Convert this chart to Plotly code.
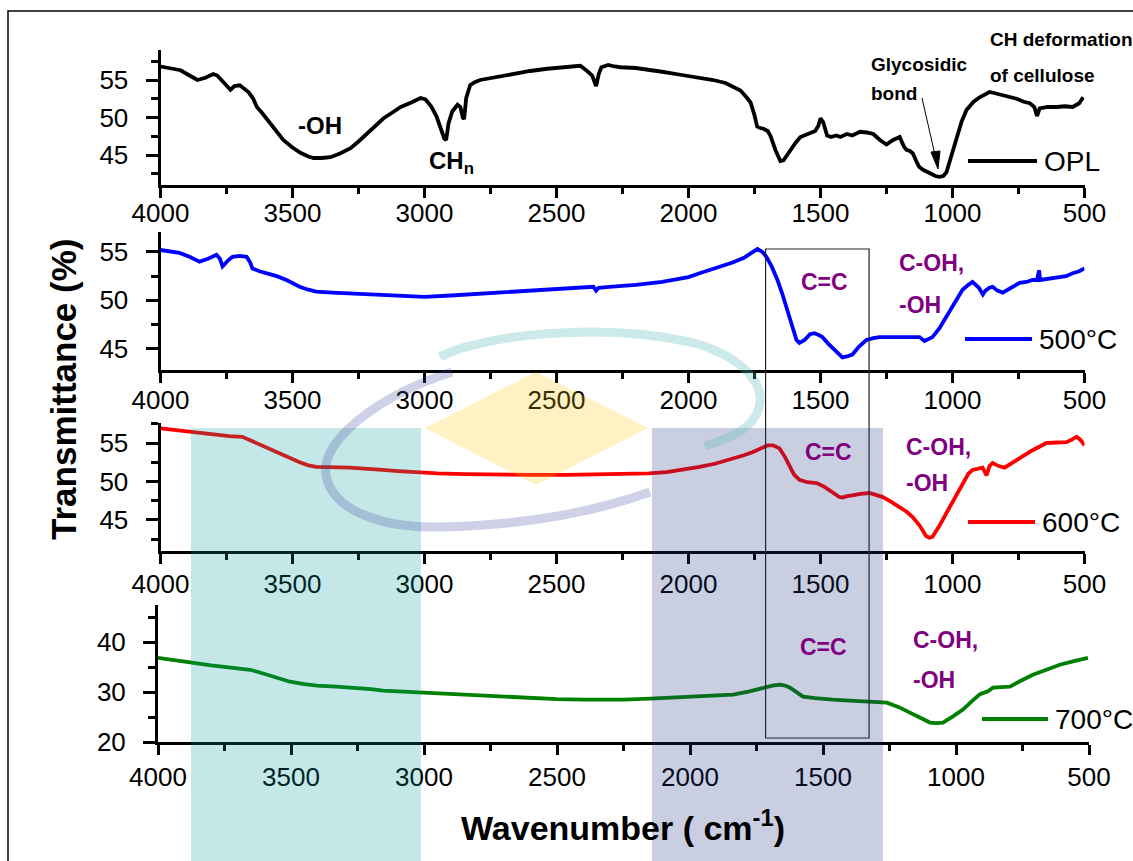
import plotly.graph_objects as go

W, H = 1133, 861

# ---------------- spectra: wavenumber (cm-1) / transmittance (%) ----------------
opl_wn = [4000, 3960, 3924, 3890, 3860, 3830, 3800, 3785, 3760, 3745, 3735, 3720, 3700, 3685, 3667,
          3650, 3635, 3615, 3596, 3565, 3535, 3500, 3470, 3440, 3420, 3390, 3356, 3320, 3280, 3250,
          3217, 3185, 3155, 3120, 3090, 3050, 3015, 2996, 2975, 2955, 2940, 2925, 2918, 2909, 2895,
          2875, 2864, 2855, 2850, 2842, 2827, 2810, 2789, 2730, 2664, 2600, 2535, 2470, 2410, 2384,
          2365, 2350, 2340, 2330, 2304, 2280, 2258, 2200, 2156, 2100, 2031, 1960, 1906, 1860, 1830,
          1803, 1778, 1765, 1750, 1740, 1728, 1716, 1700, 1690, 1670, 1652, 1640, 1615, 1595, 1576,
          1555, 1538, 1520, 1508, 1500, 1490, 1475, 1460, 1440, 1425, 1400, 1380, 1350, 1325, 1300,
          1275, 1250, 1225, 1200, 1185, 1175, 1160, 1150, 1135, 1126, 1110, 1088, 1065, 1050, 1035,
          1023, 1005, 985, 965, 947, 920, 897, 875, 860, 835, 810, 785, 757, 730, 707,
          690, 680, 670, 640, 605, 575, 545, 520, 505]
opl_t = [56.8, 56.6, 56.3, 55.6, 55.0, 55.3, 55.8, 55.6, 54.7, 54.0, 53.7, 54.2, 54.3, 53.9, 53.4,
         52.6, 51.4, 50.6, 49.7, 48.4, 47.0, 46.0, 45.3, 44.8, 44.6, 44.6, 44.7, 45.2, 45.9, 46.8,
         47.9, 48.9, 49.9, 50.7, 51.4, 52.0, 52.6, 52.4, 51.5, 50.2, 48.8, 47.2, 47.0, 49.2, 50.8,
         51.7, 51.4, 50.0, 49.8, 52.6, 54.3, 54.7, 55.0, 55.4, 55.8, 56.2, 56.5, 56.7, 56.9, 56.2,
         55.6, 54.2, 55.8, 56.7, 57.0, 56.8, 56.7, 56.6, 56.4, 56.1, 55.7, 55.3, 55.0, 54.6, 54.1,
         53.6, 52.6, 52.0, 50.3, 48.8, 48.6, 48.5, 48.2, 47.6, 45.6, 44.2, 44.3, 45.6, 46.6, 47.4,
         47.7, 47.9, 48.2, 48.9, 49.9, 49.4, 47.6, 47.4, 47.6, 47.4, 47.8, 47.6, 48.1, 48.0, 47.8,
         47.0, 46.4, 47.0, 47.4, 46.2, 45.7, 45.5, 45.2, 44.0, 43.4, 43.0, 42.6, 42.2, 42.1, 42.2,
         42.7, 44.8, 47.0, 49.5, 51.0, 52.1, 52.7, 53.2, 53.4, 53.2, 53.0, 52.8, 52.5, 52.1, 51.9,
         51.4, 50.2, 51.2, 51.4, 51.4, 51.5, 51.4, 51.9, 52.7]

c500_wn = [4000, 3960, 3928, 3890, 3852, 3820, 3788, 3775, 3765, 3745, 3727, 3700, 3674, 3660, 3652,
           3625, 3598, 3560, 3523, 3495, 3473, 3440, 3410, 3349, 3280, 3220, 3150, 3095, 3040, 3000,
           2900, 2800, 2700, 2600, 2500, 2400, 2360, 2350, 2340, 2300, 2200, 2100, 2000, 1958, 1900,
           1833, 1790, 1760, 1739, 1720, 1705, 1685, 1663, 1645, 1629, 1610, 1591, 1580, 1560, 1540,
           1523, 1505, 1493, 1470, 1445, 1417, 1400, 1379, 1355, 1326, 1300, 1277, 1200, 1125, 1106,
           1090, 1076, 1050, 1023, 990, 962, 940, 924, 900, 885, 875, 860, 848, 830, 810,
           780, 746, 720, 697, 680, 672, 668, 640, 595, 570, 545, 520, 500]
c500_t = [55.2, 55.0, 54.9, 54.5, 54.0, 54.3, 54.7, 54.3, 53.5, 54.1, 54.5, 54.6, 54.5, 53.9, 53.3,
          53.0, 52.8, 52.5, 52.1, 51.7, 51.4, 51.1, 50.9, 50.8, 50.7, 50.6, 50.5, 50.4, 50.35, 50.35,
          50.5, 50.65, 50.8, 50.95, 51.1, 51.25, 51.4, 51.0, 51.3, 51.4, 51.6, 51.9, 52.4, 52.8, 53.3,
          53.9, 54.4, 54.9, 55.3, 55.0, 54.5, 53.5, 52.1, 50.7, 49.3, 47.5, 45.9, 45.6, 45.9, 46.5,
          46.6, 46.4, 46.2, 45.5, 44.8, 44.1, 44.2, 44.4, 45.2, 45.9, 46.1, 46.2, 46.2, 46.2, 45.8,
          46.0, 46.2, 47.1, 48.3, 49.8, 51.1, 51.6, 51.9, 51.3, 50.6, 51.0, 51.3, 51.4, 51.0, 50.8,
          51.3, 51.8, 51.9, 52.1, 52.1, 53.1, 52.1, 52.2, 52.4, 52.5, 52.8, 53.0, 53.3]

c600_wn = [4000, 3950, 3890, 3840, 3788, 3740, 3690, 3670, 3652, 3625, 3598, 3560, 3523, 3495, 3473,
           3440, 3410, 3284, 3220, 3159, 3100, 3045, 2950, 2850, 2716, 2600, 2462, 2350, 2212, 2150,
           2083, 2020, 1958, 1900, 1833, 1790, 1758, 1725, 1700, 1680, 1655, 1635, 1617, 1600, 1580,
           1550, 1515, 1485, 1455, 1430, 1417, 1400, 1379, 1350, 1315, 1290, 1266, 1235, 1201, 1175,
           1152, 1125, 1100, 1088, 1076, 1050, 1023, 990, 962, 940, 924, 900, 886, 871, 860,
           848, 825, 803, 775, 746, 700, 644, 600, 568, 545, 530, 515, 500]
c600_t = [56.9, 56.7, 56.4, 56.2, 56.0, 55.9, 55.8, 55.5, 55.1, 54.7, 54.3, 53.8, 53.2, 52.8, 52.5,
          52.1, 51.9, 51.8, 51.6, 51.5, 51.35, 51.2, 51.05, 50.95, 50.85, 50.85, 50.85, 50.9, 51.0, 51.05,
          51.2, 51.5, 51.9, 52.3, 52.9, 53.4, 53.8, 54.3, 54.7, 54.7, 54.3, 53.2, 51.9, 50.9, 50.2,
          49.9, 49.8, 49.3, 48.6, 48.0, 47.9, 48.1, 48.2, 48.4, 48.5, 48.3, 48.0, 47.4, 46.7, 46.1,
          45.4, 44.3, 42.9, 42.7, 42.8, 44.2, 45.9, 47.9, 49.8, 51.0, 51.5, 51.7, 51.8, 50.8, 52.0,
          52.4, 52.0, 51.8, 52.4, 53.1, 54.0, 55.0, 55.0, 55.1, 55.5, 55.8, 55.4, 54.7]

c700_wn = [4000, 3940, 3880, 3800, 3718, 3654, 3620, 3590, 3545, 3504, 3450, 3402, 3330, 3252, 3200,
           3154, 3080, 3015, 2900, 2800, 2714, 2600, 2500, 2400, 2338, 2250, 2150, 2050, 1963, 1900,
           1838, 1780, 1726, 1690, 1662, 1640, 1624, 1600, 1575, 1530, 1500, 1463, 1400, 1335, 1300,
           1260, 1215, 1173, 1135, 1098, 1075, 1049, 1010, 974, 940, 910, 880, 861, 830, 797,
           760, 711, 660, 610, 560, 504]
c700_t = [36.9, 36.4, 35.9, 35.4, 34.9, 34.5, 34.0, 33.5, 32.8, 32.1, 31.6, 31.3, 31.1, 30.9, 30.6,
          30.3, 30.1, 29.9, 29.6, 29.3, 29.1, 28.8, 28.6, 28.5, 28.5, 28.5, 28.7, 28.9, 29.1, 29.3,
          29.5, 30.1, 30.9, 31.3, 31.5, 31.3, 30.9, 30.0, 29.1, 28.8, 28.6, 28.5, 28.3, 28.1, 28.0,
          27.9, 27.0, 25.9, 24.9, 23.9, 23.8, 23.9, 25.2, 26.5, 28.2, 29.6, 30.2, 30.9, 31.0, 31.1,
          32.2, 33.5, 34.5, 35.5, 36.2, 36.9]

series_names = ["OPL", "500°C", "600°C", "700°C"]
series_colors = ["#000000", "#0000ff", "#ff0000", "#008000"]
y_ranges = [[41, 59], [42.8, 57.06], [41.0, 57.6], [20, 47.5]]
y_dticks = [5, 5, 5, 10]
y_tick0 = [45, 45, 45, 20]
x_ticks = [4000, 3500, 3000, 2500, 2000, 1500, 1000, 500]

FONT = "Liberation Sans, Arial, sans-serif"


def px(x):
    return x / W


def py(y):
    return 1 - y / H


# panel frames in pixels: (left, right, top, bottom)
frames = [(160.5, 1084.5, 50, 185),
          (160.5, 1084.5, 232, 370),
          (160.5, 1084.5, 423, 550.7),
          (158, 1089, 605, 742)]
label_standoff = [-7, -5, -2, 0]

fig = go.Figure()
data = [(opl_wn, opl_t), (c500_wn, c500_t), (c600_wn, c600_t), (c700_wn, c700_t)]
for i, ((wn, t), col) in enumerate(zip(data, series_colors)):
    sfx = "" if i == 0 else str(i + 1)
    fig.add_trace(go.Scatter(x=wn, y=t, mode="lines", name=series_names[i],
                             line=dict(color=col, width=3.8),
                             xaxis="x" + sfx, yaxis="y" + sfx, showlegend=False))

axis_common = dict(showline=True, linewidth=3, linecolor="black", showgrid=False,
                   zeroline=False, ticks="outside", tickwidth=3, tickcolor="black",
                   tickfont=dict(family=FONT, size=26, color="black"))

layout = dict(width=W, height=H, margin=dict(l=0, r=0, t=0, b=0, autoexpand=False),
              paper_bgcolor="white", plot_bgcolor="rgba(0,0,0,0)", showlegend=False)
for i, (l, r, t, b) in enumerate(frames):
    sfx = "" if i == 0 else str(i + 1)
    layout["xaxis" + sfx] = dict(axis_common, domain=[px(l), px(r)], range=[4000, 500],
                                 anchor="y" + sfx, tickvals=x_ticks, ticklen=10,
                                 ticklabelstandoff=label_standoff[i], automargin=False,
                                 minor=dict(dtick=250, tick0=500, ticks="outside", ticklen=6,
                                            tickwidth=2.5, tickcolor="black"))
    layout["yaxis" + sfx] = dict(axis_common, domain=[py(b), py(t)], range=y_ranges[i],
                                 anchor="x" + sfx, tick0=y_tick0[i], dtick=y_dticks[i],
                                 ticklen=12, ticklabelstandoff=12, automargin=False,
                                 minor=dict(dtick=y_dticks[i] / 2, ticks="outside", ticklen=7,
                                            tickwidth=2.5, tickcolor="black"))
fig.update_layout(**layout)

shapes = []
# outer frame
shapes.append(dict(type="rect", xref="paper", yref="paper", x0=px(8), x1=px(1150),
                   y0=py(880), y1=py(11), line=dict(color="black", width=1.5)))
# C=C region box
shapes.append(dict(type="rect", xref="x2", yref="paper", x0=1708, x1=1316,
                   y0=py(738), y1=py(249), line=dict(color="#222222", width=1.2)))
# legend samples
leg = [(968, 1037, 161), (965, 1032, 339), (968, 1035, 522), (982, 1048, 719)]
for (a, b_, y), col in zip(leg, series_colors):
    shapes.append(dict(type="line", xref="paper", yref="paper", x0=px(a), x1=px(b_),
                       y0=py(y), y1=py(y), line=dict(color=col, width=4)))


def pth(points):
    cmd = points[0]
    s = "M %.5f,%.5f" % (px(cmd[0]), py(cmd[1]))
    for seg in points[1:]:
        if len(seg) == 6:
            s += " C %.5f,%.5f %.5f,%.5f %.5f,%.5f" % (px(seg[0]), py(seg[1]), px(seg[2]),
                                                     py(seg[3]), px(seg[4]), py(seg[5]))
        else:
            s += " L %.5f,%.5f" % (px(seg[0]), py(seg[1]))
    return s


# arrow pointing at the glycosidic band
shapes.append(dict(type="line", xref="paper", yref="paper", x0=px(922), y0=py(98),
                   x1=px(935), y1=py(155), line=dict(color="black", width=1)))
shapes.append(dict(type="path", xref="paper", yref="paper",
                   path=pth([(931, 152), (938, 169), (940, 151)]) + " Z",
                   fillcolor="black", line=dict(color="black", width=1)))

# logo watermark
shapes.append(dict(type="rect", xref="paper", yref="paper", layer="above",
                   x0=px(191), x1=px(421), y0=py(880), y1=py(428),
                   fillcolor="rgba(0,150,150,0.23)", line=dict(width=0)))
shapes.append(dict(type="rect", xref="paper", yref="paper", layer="above",
                   x0=px(652), x1=px(883), y0=py(880), y1=py(428),
                   fillcolor="rgba(30,50,130,0.24)", line=dict(width=0)))
shapes.append(dict(type="path", xref="paper", yref="paper", layer="above",
                   path=pth([(425, 428), (536, 372), (648, 428), (536, 485)]) + " Z",
                   fillcolor="rgba(250,200,0,0.23)", line=dict(width=0)))
shapes.append(dict(type="path", xref="paper", yref="paper", layer="above",
                   path=pth([(440, 357), (480, 335, 600, 322, 690, 342),
                             (740, 355, 772, 385, 756, 415), (748, 430, 730, 438, 705, 446)]),
                   line=dict(color="rgba(90,185,185,0.30)", width=9)))
shapes.append(dict(type="path", xref="paper", yref="paper", layer="above",
                   path=pth([(452, 372), (380, 395, 320, 440, 326, 475),
                             (332, 510, 380, 528, 440, 527), (530, 525, 600, 510, 650, 492)]),
                   line=dict(color="rgba(60,70,160,0.25)", width=9)))
fig.update_layout(shapes=shapes)

ann = []


def text(t, x, y, size, color="black", bold=False, xanchor="left", angle=0):
    ann.append(dict(text="<b>%s</b>" % t if bold else t, x=px(x), y=py(y), xref="paper",
                    yref="paper", showarrow=False, xanchor=xanchor, yanchor="middle",
                    textangle=angle, font=dict(family=FONT, size=size, color=color)))


text("-OH", 320, 125, 24, bold=True, xanchor="center")
text("CH<sub>n</sub>", 427, 162, 24, bold=True)
text("Glycosidic", 869, 64, 19, bold=True)
text("bond", 869, 93, 19, bold=True)
text("CH deformation", 988, 40, 19, bold=True)
text("of cellulose", 988, 76, 19, bold=True)

for name, (a, b_, y) in zip(series_names, leg):
    text(name, b_ + 5, y, 28)

purple = "#800080"
for (cx, cy), (lx, ly1, ly2) in zip([(824, 282), (828, 452), (823, 647)],
                                    [(897, 263, 305), (904, 447, 483), (911, 640, 680)]):
    text("C=C", cx, cy, 23, color=purple, bold=True, xanchor="center")
    text("C-OH,", lx, ly1, 23, color=purple, bold=True)
    text("-OH", lx, ly2, 23, color=purple, bold=True)

text("Transmittance (%)", 63, 390, 35, bold=True, xanchor="center", angle=-90)
text("Wavenumber ( cm<sup>-1</sup>)", 623, 825, 34, bold=True, xanchor="center")

fig.update_layout(annotations=ann)

fig.write_html("out.html", post_script="document.body.style.margin='0';")
